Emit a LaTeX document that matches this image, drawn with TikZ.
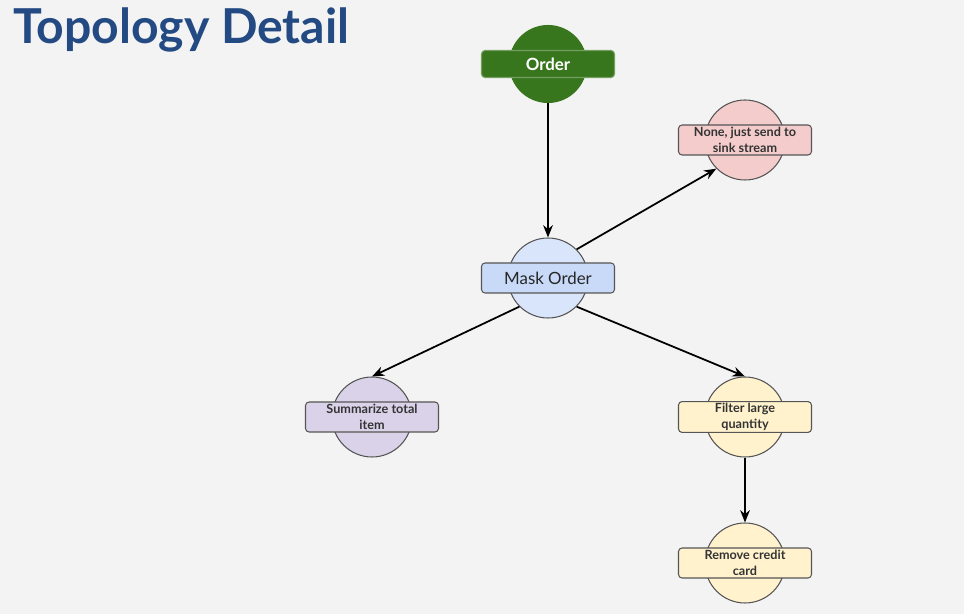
\documentclass[tikz,border=0pt]{standalone}
\usepackage{fontspec}
\setmainfont{Lato}
\usetikzlibrary{arrows.meta}
\definecolor{bgcol}{HTML}{F3F3F3}
\definecolor{titlecol}{HTML}{234A82}
\definecolor{greencol}{HTML}{38761D}
\definecolor{pinkcol}{HTML}{F4CCCC}
\definecolor{bluecol}{HTML}{C9DAF8}
\definecolor{lavcol}{HTML}{D9D2E9}
\definecolor{creamcol}{HTML}{FFF2CC}
\definecolor{edgecol}{HTML}{555555}
\definecolor{txtcol}{HTML}{333333}

\tikzset{
  circ/.style={circle, draw=edgecol, line width=0.6pt, minimum size=1.6cm, inner sep=0pt},
  bar/.style={rectangle, rounded corners=2pt, draw=edgecol, line width=0.6pt,
    minimum width=2.66cm, minimum height=0.6cm, inner sep=1pt, align=center,
    font=\bfseries\fontsize{7.2}{9}\selectfont, text=txtcol},
  arr/.style={-{Stealth[length=7pt,width=5.5pt]}, line width=1pt}
}

\begin{document}
\begin{tikzpicture}[x=0.02cm, y=-0.02cm]
  \fill[bgcol] (0,0) rectangle (964,614);
  \node[anchor=base west, text=titlecol, font=\bfseries\fontsize{27.4}{32}\selectfont,
    inner sep=0pt] (title) at (13,44) {Topology Detail};

  \node[circ, draw=greencol, fill=greencol, minimum size=1.54cm] (order) at (548,64) {};
  \node[bar, draw=greencol!70!white, fill=greencol, text=white, minimum height=0.54cm,
    font=\bfseries\fontsize{9.6}{11}\selectfont] (orderbar) at (order) {Order};

  \node[circ, fill=bluecol!70!white] (mask) at (548,278) {};
  \node[bar, fill=bluecol, text=black!85, font=\fontsize{9.6}{11}\selectfont] (maskbar) at (mask) {Mask Order};

  \node[circ, fill=pinkcol] (none) at (745,140) {};
  \node[bar, fill=pinkcol] (nonebar) at (none) {None, just send to\\sink stream};

  \node[circ, fill=lavcol] (summ) at (372,417) {};
  \node[bar, fill=lavcol] (summbar) at (summ) {Summarize total\\item};

  \node[circ, fill=creamcol] (filter) at (745,417) {};
  \node[bar, fill=creamcol] (filterbar) at (filter) {Filter large\\quantity};

  \node[circ, fill=creamcol] (remove) at (745,563) {};
  \node[bar, fill=creamcol] (removebar) at (remove) {Remove credit\\card};

  \draw[arr] (order) -- (mask);
  \draw[arr] (mask.north east) -- (none.south west);
  \draw[arr] (mask.south west) -- (summ.north);
  \draw[arr] (mask.south east) -- (filter.north);
  \draw[arr] (filter) -- (remove);
\end{tikzpicture}
\end{document}
